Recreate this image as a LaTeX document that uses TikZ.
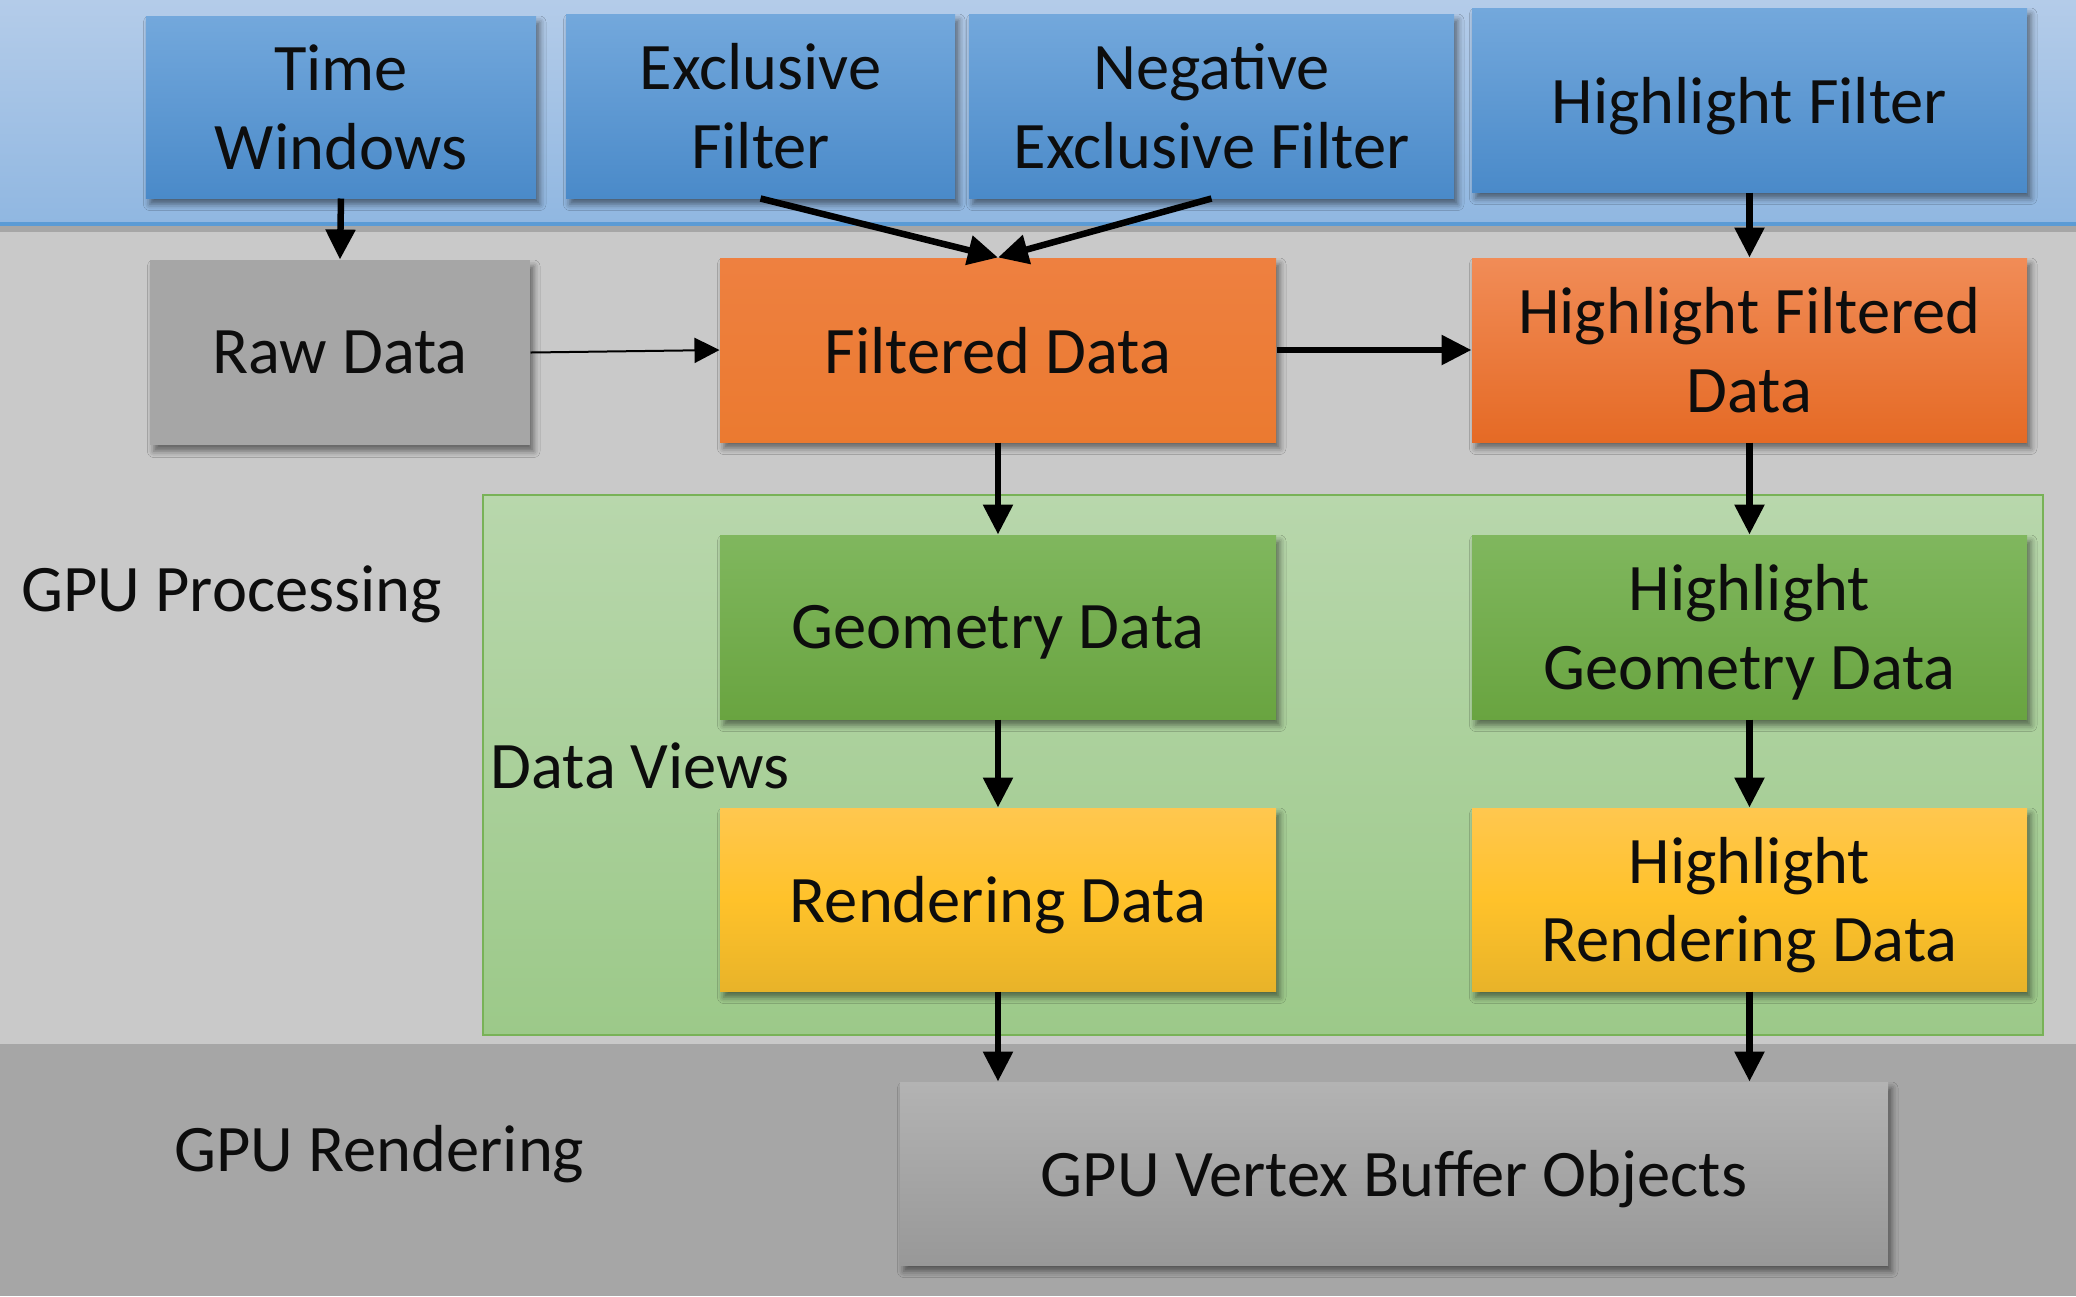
\documentclass[tikz,border=0pt]{standalone}
\usepackage{fontspec}
\setmainfont{Carlito}
\usetikzlibrary{arrows.meta,shadows.blur}
\definecolor{bandtop}{HTML}{B4CCE9}
\definecolor{bandbot}{HTML}{90B7E1}
\definecolor{bandline}{HTML}{5B9BD5}
\definecolor{midgray}{HTML}{C9C9C9}
\definecolor{stripe}{HTML}{A6A6A6}
\definecolor{darkband}{HTML}{A6A6A6}
\definecolor{bluetop}{HTML}{73A8DC}
\definecolor{bluebot}{HTML}{4A8AC9}
\definecolor{rawgray}{HTML}{A6A6A6}
\definecolor{orangetop}{HTML}{EE8040}
\definecolor{orangebot}{HTML}{EB7A30}
\definecolor{hotop}{HTML}{F18C57}
\definecolor{hobot}{HTML}{E56A25}
\definecolor{greentop}{HTML}{80B75E}
\definecolor{greenbot}{HTML}{69A440}
\definecolor{yeltop}{HTML}{FFC74F}
\definecolor{yelmid}{HTML}{FFC22A}
\definecolor{yelbot}{HTML}{E8B329}
\definecolor{vbotop}{HTML}{B3B3B3}
\definecolor{vbobot}{HTML}{989898}
\definecolor{conttop}{HTML}{B8D7AC}
\definecolor{contbot}{HTML}{9CC989}
\definecolor{contline}{HTML}{78B257}
\tikzset{
  base/.style={inner sep=0pt, align=center, text=black!95,
    minimum height=73.6pt, text depth=0pt,
    font=\fontsize{26.6}{31.5}\selectfont,
    blur shadow={shadow xshift=1.5pt, shadow yshift=-2.5pt, shadow blur radius=2.5pt, shadow opacity=50}},
  bluebox/.style={base, top color=bluetop, bottom color=bluebot},
  graybox/.style={base, fill=rawgray},
  orangebox/.style={base, top color=orangetop, bottom color=orangebot},
  hobox/.style={base, top color=hotop, bottom color=hobot},
  greenbox/.style={base, top color=greentop, bottom color=greenbot},
  yelbox/.style={base, top color=yeltop, bottom color=yelbot, middle color=yelmid},
  vbobox/.style={base, top color=vbotop, bottom color=vbobot},
  lbl/.style={inner sep=0pt, text=black!95, font=\fontsize{26.6}{32}\selectfont},
  arr/.style={line width=2.6pt, -{Triangle[length=12pt,width=11.5pt]}},
  thinarr/.style={line width=0.8pt, -{Triangle[length=10pt,width=10pt]}}
}
\begin{document}
\begin{tikzpicture}[x=0.4pt,y=-0.4pt]
\useasboundingbox (0,0) rectangle (2076,1296);
% bands
\shade[top color=bandtop, bottom color=bandbot] (0,0) rectangle (2076,224);
\fill[bandline] (0,222) rectangle (2076,226);
\fill[stripe] (0,226) rectangle (2076,232);
\fill[midgray] (0,232) rectangle (2076,1044);
\fill[darkband] (0,1044) rectangle (2076,1296);
% container
\draw[contline, line width=0.6pt, top color=conttop, bottom color=contbot] (483,495) rectangle (2043,1035);
% labels
\node[lbl, anchor=west] (gpup) at (21,594) {GPU Processing};
\node[lbl, anchor=west] (gpur) at (174,1154) {GPU Rendering};
\node[lbl, anchor=west] (dv) at (490,766) {Data Views};
% boxes
\node[bluebox, minimum width=156pt, minimum height=72.8pt] (tw) at (341,107) {Time\\Windows};
\node[bluebox, minimum width=155.6pt] (ef) at (760.5,106) {Exclusive\\Filter};
\node[bluebox, minimum width=194pt] (nef) at (1211.5,106) {Negative\\Exclusive Filter};
\node[bluebox, minimum width=222pt] (hf) at (1749.5,100) {Highlight Filter};
\node[graybox, minimum width=152pt, minimum height=74pt] (rd) at (340,352.5) {Raw Data};
\node[orangebox, minimum width=222.4pt] (fd) at (998,350) {Filtered Data};
\node[hobox, minimum width=222pt] (hfd) at (1749.5,350) {Highlight Filtered\\Data};
\node[greenbox, minimum width=222.4pt] (gd) at (998,627) {Geometry Data};
\node[greenbox, minimum width=222pt] (hgd) at (1749.5,627) {Highlight\\Geometry Data};
\node[yelbox, minimum width=222.4pt, minimum height=73.2pt] (rnd) at (998,899.5) {Rendering Data};
\node[yelbox, minimum width=222pt, minimum height=73.2pt] (hrd) at (1749.5,899.5) {Highlight\\Rendering Data};
\node[vbobox, minimum width=395.2pt, minimum height=73.2pt] (vbo) at (1394,1173.5) {GPU Vertex Buffer Objects};
% connectors
\draw[arr] (tw.south) -- (rd.north);
\draw[arr] (ef.south) -- (fd.north);
\draw[arr] (nef.south) -- (fd.north);
\draw[arr] (hf.south) -- (hfd.north);
\draw[thinarr] (rd.east) -- (fd.west);
\draw[arr] (fd.east) -- (hfd.west);
\draw[arr] (fd.south) -- (gd.north);
\draw[arr] (hfd.south) -- (hgd.north);
\draw[arr] (gd.south) -- (rnd.north);
\draw[arr] (hgd.south) -- (hrd.north);
\draw[arr] (rnd.south) -- (rnd.south |- vbo.north);
\draw[arr] (hrd.south) -- (hrd.south |- vbo.north);
\end{tikzpicture}
\end{document}
